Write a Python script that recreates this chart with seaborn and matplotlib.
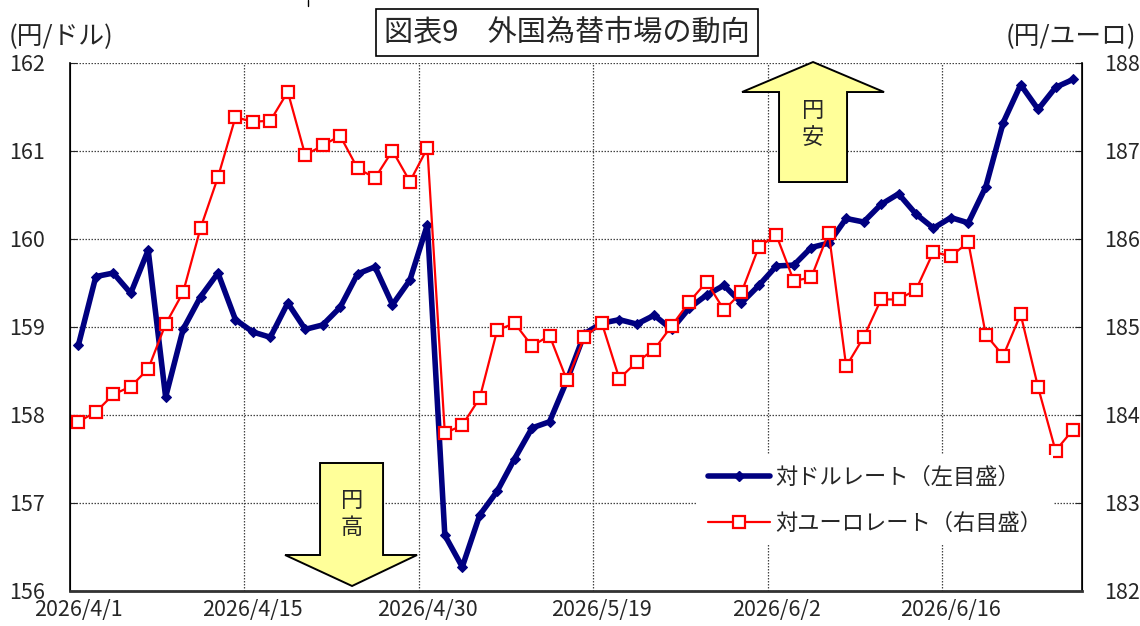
import numpy as np
import pandas as pd
import seaborn as sns
import matplotlib.pyplot as plt
from matplotlib.patches import Polygon
from matplotlib.lines import Line2D

# Daten (Handelstage 2026/4/1 - 2026/6/25)
usd_jpy = [158.79, 159.57, 159.61, 159.38, 159.87, 158.20, 158.97, 159.34, 159.61, 159.08,
           158.94, 158.88, 159.27, 158.97, 159.02, 159.22, 159.60, 159.68, 159.25, 159.53,
           160.16, 156.63, 156.27, 156.86, 157.13, 157.50, 157.85, 157.92, 158.39, 158.92,
           159.04, 159.08, 159.03, 159.13, 158.97, 159.21, 159.36, 159.47, 159.27, 159.47,
           159.69, 159.70, 159.90, 159.95, 160.23, 160.19, 160.39, 160.51, 160.28, 160.12,
           160.24, 160.18, 160.59, 161.32, 161.75, 161.47, 161.72, 161.81]
eur_jpy = [183.92, 184.03, 184.23, 184.32, 184.52, 185.03, 185.39, 186.12, 186.70, 187.38,
           187.33, 187.34, 187.67, 186.95, 187.06, 187.17, 186.80, 186.69, 187.00, 186.65,
           187.03, 183.79, 183.88, 184.19, 184.96, 185.04, 184.78, 184.90, 184.39, 184.88,
           185.04, 184.41, 184.60, 184.74, 185.01, 185.28, 185.51, 185.19, 185.39, 185.91,
           186.04, 185.52, 185.56, 186.07, 184.55, 184.88, 185.31, 185.31, 185.42, 185.85,
           185.80, 185.96, 184.91, 184.67, 185.14, 184.31, 183.59, 183.83]
tick_labels = ["2026/4/1", "2026/4/15", "2026/4/30", "2026/5/19", "2026/6/2", "2026/6/16"]

df = pd.DataFrame({"tag": np.arange(len(usd_jpy)), "usd": usd_jpy, "eur": eur_jpy})

sns.set_style("white")
plt.rcParams["font.family"] = ["Noto Sans CJK JP", "DejaVu Sans"]

fig = plt.figure(figsize=(11.4, 6.26), dpi=100)
ax = fig.add_axes([0.0611, 0.0564, 0.8878, 0.8434])
ax2 = ax.twinx()

sns.lineplot(data=df, x="tag", y="usd", ax=ax, color="#000080", linewidth=4,
             marker="D", markersize=5, markeredgecolor="#000080", legend=False)
sns.lineplot(data=df, x="tag", y="eur", ax=ax2, color="#FF0000", linewidth=1.6,
             marker="s", markersize=8, markerfacecolor="white", markeredgecolor="#FF0000",
             markeredgewidth=1.6, legend=False)

n = len(usd_jpy)
ax.set_xlim(-0.5, n - 0.5)
ax.set_ylim(156, 162)
ax2.set_ylim(182, 188)
ax.set_yticks(range(156, 163))
ax2.set_yticks(range(182, 189))
ax.set_xticks(range(0, 60, 10))
ax.set_xticklabels(tick_labels)
ax.set_xticks(np.arange(9.5, n, 10), minor=True)
ax.set_xlabel("")
ax.set_ylabel("")
ax2.set_ylabel("")

grid_kw = dict(color="#444444", linewidth=0.9, linestyle=(0, (1.2, 1.2)))
ax.grid(axis="y", which="major", **grid_kw)
ax.grid(axis="x", which="minor", **grid_kw)
ax.grid(axis="x", which="major", visible=False)
ax.set_axisbelow(True)

ax.tick_params(axis="y", direction="in", length=5, pad=18, labelsize=15.5)
ax2.tick_params(axis="y", direction="in", length=5, pad=16, labelsize=15.5)
ax.tick_params(axis="x", which="both", length=0, pad=6, labelsize=15.5)

for a in (ax, ax2):
    a.spines["top"].set_visible(False)
    a.spines["left"].set_color("black")
    a.spines["right"].set_color("black")
    a.spines["bottom"].set_color("#333333")
ax2.spines["bottom"].set_linewidth(2)
ax2.spines["left"].set_linewidth(1.2)
ax2.spines["right"].set_linewidth(1.2)


# Pfeile (Pixel -> Achsenanteil)
def frac(px, py):
    return ((px - 69.6) / 1012.1, (590.7 - py) / 528.0)


down = [frac(320, 463), frac(383, 463), frac(383, 555), frac(417, 555),
        frac(352, 586), frac(285, 555), frac(320, 555)]
up = [frac(779, 182), frac(847, 182), frac(847, 92), frac(884, 92),
      frac(813, 62), frac(742, 92), frac(779, 92)]
for pts in (down, up):
    ax2.add_patch(Polygon(pts, closed=True, transform=ax2.transAxes, facecolor="#FFFF99",
                          edgecolor="black", linewidth=1.4, zorder=5, clip_on=False))
x, y = frac(352, 514)
ax2.text(x, y, "円\n高", transform=ax2.transAxes, ha="center", va="center",
         fontsize=16, linespacing=1.2, zorder=6)
x, y = frac(813, 124)
ax2.text(x, y, "円\n安", transform=ax2.transAxes, ha="center", va="center",
         fontsize=16, linespacing=1.2, zorder=6)

# Legende
handles = [Line2D([], [], color="#000080", linewidth=4, marker="D", markersize=5),
           Line2D([], [], color="#FF0000", linewidth=1.6, marker="s", markersize=8,
                  markerfacecolor="white", markeredgewidth=1.6)]
leg = ax2.legend(handles, ["対ドルレート（左目盛）", "対ユーロレート（右目盛）"],
                 loc="upper left", bbox_to_anchor=(0.609, 0.278), fontsize=16,
                 handlelength=2.8, labelspacing=1.0, frameon=True, fancybox=False,
                 borderpad=0.5, handletextpad=0.2)
leg.get_frame().set_facecolor("white")
leg.get_frame().set_edgecolor("none")
leg.get_frame().set_alpha(1)
leg.set_zorder(10)

# Titel und Einheiten
fig.text(0.497, 0.948, "図表9　外国為替市場の動向", ha="center", va="center", fontsize=21,
         bbox=dict(boxstyle="square,pad=0.28", facecolor="white", edgecolor="black", linewidth=1.2))
fig.text(0.008, 0.94, "(円/ドル)", ha="left", va="center", fontsize=18.5)
fig.text(0.997, 0.94, "(円/ユーロ)", ha="right", va="center", fontsize=18.5)
fig.add_artist(Line2D([308 / 1140, 308 / 1140], [1.0, 0.99], color="black", linewidth=1))

plt.savefig("out.png", dpi=100)
